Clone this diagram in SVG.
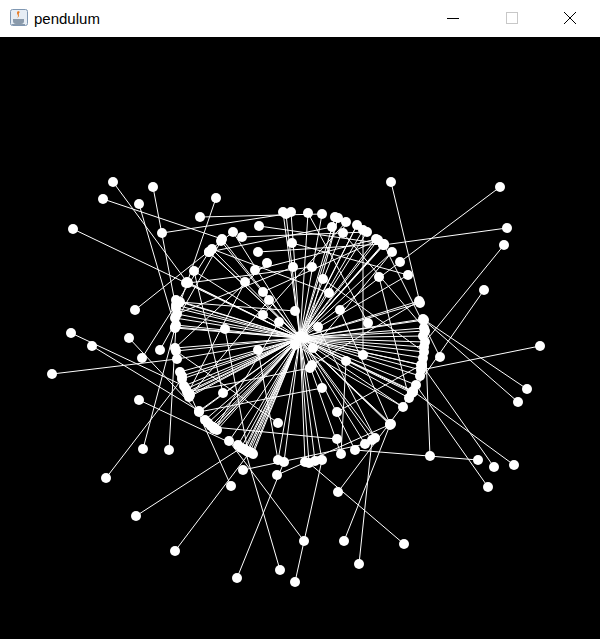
<svg xmlns="http://www.w3.org/2000/svg" width="600" height="639" viewBox="0 0 600 639">
<style>
.rod{fill:none;stroke:#fff;stroke-width:1}
.bob{fill:#fff}
.ttl{font-family:"Liberation Sans","DejaVu Sans",sans-serif;font-size:15px;fill:#000}
.ctl{fill:none;stroke:#000;stroke-width:1}
</style>
<rect x="0" y="0" width="600" height="37" fill="#fff"/>
<g id="window-icon">
<rect x="10.5" y="9.5" width="17" height="16" rx="2" fill="#e6edf5" stroke="#7f97b2"/>
<path d="M18 11 C15 14 20 15 17 18 C21 16 17 14 20 12 Z" fill="#e8781e"/>
<path d="M13 19 h11 v2 a3 3 0 0 1 -3 3 h-5 a3 3 0 0 1 -3 -3 Z" fill="#8a9aab"/>
<path d="M12 24.5 h13" stroke="#8a9aab" stroke-width="1"/>
</g>
<text class="ttl" x="34" y="24">pendulum</text>
<g id="window-controls">
<path class="ctl" d="M447 18.5 H459"/>
<rect x="506.5" y="12.5" width="11" height="11" fill="none" stroke="#c8c8c8"/>
<path class="ctl" d="M564 12 L576 24 M576 12 L564 24"/>
</g>
<rect x="0" y="37" width="600" height="602" fill="#000"/>
<g id="rods" class="rod">
<path d="M300 338 L187 282 L113 182"/>
<path d="M300 338 L176 308 L153 187"/>
<path d="M300 338 L222 239 L103 199"/>
<path d="M300 338 L175 327 L139 204"/>
<path d="M300 338 L175 318 L216 198"/>
<path d="M300 338 L322 214 L200 217"/>
<path d="M300 338 L184 386 L71 333"/>
<path d="M300 338 L199 411 L92 346"/>
<path d="M300 338 L177 359 L52 374"/>
<path d="M300 338 L214 429 L129 338"/>
<path d="M300 338 L209 252 L142 358"/>
<path d="M300 338 L221 241 L160 350"/>
<path d="M300 338 L252 453 L139 400"/>
<path d="M300 338 L175 328 L143 449"/>
<path d="M300 338 L176 325 L169 450"/>
<path d="M300 338 L182 379 L106 478"/>
<path d="M300 338 L241 448 L136 516"/>
<path d="M300 338 L250 452 L175 551"/>
<path d="M300 338 L180 372 L231 486"/>
<path d="M300 338 L284 462 L237 578"/>
<path d="M300 338 L245 450 L280 570"/>
<path d="M300 338 L194 271 L223 393"/>
<path d="M300 338 L278 460 L258 350"/>
<path d="M300 338 L176 351 L278 423"/>
<path d="M300 338 L391 424 L277 475"/>
<path d="M300 338 L365 444 L243 470"/>
<path d="M300 338 L421 370 L540 346"/>
<path d="M300 338 L423 319 L527 389"/>
<path d="M300 338 L424 320 L518 402"/>
<path d="M300 338 L416 385 L488 487"/>
<path d="M300 338 L355 450 L478 460"/>
<path d="M300 338 L422 365 L494 467"/>
<path d="M300 338 L413 391 L514 465"/>
<path d="M300 338 L425 331 L430 456"/>
<path d="M300 338 L413 392 L338 492"/>
<path d="M300 338 L229 441 L304 541"/>
<path d="M300 338 L390 425 L344 541"/>
<path d="M300 338 L309 463 L404 544"/>
<path d="M300 338 L372 440 L359 564"/>
<path d="M300 338 L322 460 L295 582"/>
<path d="M300 338 L384 245 L440 357"/>
<path d="M300 338 L421 365 L337 412"/>
<path d="M300 338 L341 454 L346 361"/>
<path d="M300 338 L213 427 L337 439"/>
<path d="M300 338 L199 412 L322 388"/>
<path d="M300 338 L419 301 L312 365"/>
<path d="M300 338 L363 230 L363 355"/>
<path d="M300 338 L286 214 L162 233"/>
<path d="M300 338 L186 283 L73 229"/>
<path d="M300 338 L233 232 L135 310"/>
<path d="M300 338 L383 244 L258 252"/>
<path d="M300 338 L175 348 L267 263"/>
<path d="M300 338 L376 239 L255 270"/>
<path d="M300 338 L188 393 L245 282"/>
<path d="M300 338 L378 240 L263 292"/>
<path d="M300 338 L189 397 L269 300"/>
<path d="M300 338 L408 275 L292 243"/>
<path d="M300 338 L177 314 L293 267"/>
<path d="M300 338 L248 452 L225 329"/>
<path d="M300 338 L346 222 L263 315"/>
<path d="M300 338 L384 244 L259 226"/>
<path d="M300 338 L367 232 L242 237"/>
<path d="M300 338 L420 303 L391 182"/>
<path d="M300 338 L400 262 L500 187"/>
<path d="M300 338 L383 245 L507 228"/>
<path d="M300 338 L425 342 L504 245"/>
<path d="M300 338 L412 393 L484 290"/>
<path d="M300 338 L409 398 L379 277"/>
<path d="M300 338 L188 283 L312 267"/>
<path d="M300 338 L424 352 L323 279"/>
<path d="M300 338 L212 249 L329 293"/>
<path d="M300 338 L390 424 L340 310"/>
<path d="M300 338 L180 302 L295 311"/>
<path d="M300 338 L308 213 L368 323"/>
<path d="M300 338 L209 252 L332 227"/>
<path d="M300 338 L424 328 L343 233"/>
<path d="M300 338 L338 218 L305 338"/>
<path d="M300 338 L357 225 L300 336"/>
<path d="M300 338 L392 252 L313 348"/>
<path d="M300 338 L403 407 L295 345"/>
<path d="M300 338 L375 438 L318 327"/>
<path d="M300 338 L215 429 L279 322"/>
<path d="M300 338 L187 392 L310 368"/>
<path d="M300 338 L205 420 M300 338 L208 423 M300 338 L211 426 M300 338 L217 430"/>
<path d="M300 338 L238 445 M300 338 L244 449 M300 338 L247 451 M300 338 L253 454"/>
<path d="M300 338 L182 376 M300 338 L186 389 M300 338 L190 395"/>
<path d="M300 338 L423 336 M300 338 L424 347 M300 338 L423 358 M300 338 L420 376"/>
<path d="M300 338 L305 462 M300 338 L315 461 M300 338 L283 212 M300 338 L291 212"/>
<path d="M300 338 L335 217 M300 338 L176 300 M300 338 L176 305"/>
</g>
<g id="bobs" class="bob">
<circle cx="187" cy="282" r="5"/><circle cx="113" cy="182" r="5"/>
<circle cx="176" cy="308" r="5"/><circle cx="153" cy="187" r="5"/>
<circle cx="222" cy="239" r="5"/><circle cx="103" cy="199" r="5"/>
<circle cx="175" cy="327" r="5"/><circle cx="139" cy="204" r="5"/>
<circle cx="175" cy="318" r="5"/><circle cx="216" cy="198" r="5"/>
<circle cx="322" cy="214" r="5"/><circle cx="200" cy="217" r="5"/>
<circle cx="184" cy="386" r="5"/><circle cx="71" cy="333" r="5"/>
<circle cx="199" cy="411" r="5"/><circle cx="92" cy="346" r="5"/>
<circle cx="177" cy="359" r="5"/><circle cx="52" cy="374" r="5"/>
<circle cx="214" cy="429" r="5"/><circle cx="129" cy="338" r="5"/>
<circle cx="209" cy="252" r="5"/><circle cx="142" cy="358" r="5"/>
<circle cx="221" cy="241" r="5"/><circle cx="160" cy="350" r="5"/>
<circle cx="252" cy="453" r="5"/><circle cx="139" cy="400" r="5"/>
<circle cx="175" cy="328" r="5"/><circle cx="143" cy="449" r="5"/>
<circle cx="176" cy="325" r="5"/><circle cx="169" cy="450" r="5"/>
<circle cx="182" cy="379" r="5"/><circle cx="106" cy="478" r="5"/>
<circle cx="241" cy="448" r="5"/><circle cx="136" cy="516" r="5"/>
<circle cx="250" cy="452" r="5"/><circle cx="175" cy="551" r="5"/>
<circle cx="180" cy="372" r="5"/><circle cx="231" cy="486" r="5"/>
<circle cx="284" cy="462" r="5"/><circle cx="237" cy="578" r="5"/>
<circle cx="245" cy="450" r="5"/><circle cx="280" cy="570" r="5"/>
<circle cx="194" cy="271" r="5"/><circle cx="223" cy="393" r="5"/>
<circle cx="278" cy="460" r="5"/><circle cx="258" cy="350" r="5"/>
<circle cx="176" cy="351" r="5"/><circle cx="278" cy="423" r="5"/>
<circle cx="391" cy="424" r="5"/><circle cx="277" cy="475" r="5"/>
<circle cx="365" cy="444" r="5"/><circle cx="243" cy="470" r="5"/>
<circle cx="421" cy="370" r="5"/><circle cx="540" cy="346" r="5"/>
<circle cx="423" cy="319" r="5"/><circle cx="527" cy="389" r="5"/>
<circle cx="424" cy="320" r="5"/><circle cx="518" cy="402" r="5"/>
<circle cx="416" cy="385" r="5"/><circle cx="488" cy="487" r="5"/>
<circle cx="355" cy="450" r="5"/><circle cx="478" cy="460" r="5"/>
<circle cx="422" cy="365" r="5"/><circle cx="494" cy="467" r="5"/>
<circle cx="413" cy="391" r="5"/><circle cx="514" cy="465" r="5"/>
<circle cx="425" cy="331" r="5"/><circle cx="430" cy="456" r="5"/>
<circle cx="413" cy="392" r="5"/><circle cx="338" cy="492" r="5"/>
<circle cx="229" cy="441" r="5"/><circle cx="304" cy="541" r="5"/>
<circle cx="390" cy="425" r="5"/><circle cx="344" cy="541" r="5"/>
<circle cx="309" cy="463" r="5"/><circle cx="404" cy="544" r="5"/>
<circle cx="372" cy="440" r="5"/><circle cx="359" cy="564" r="5"/>
<circle cx="322" cy="460" r="5"/><circle cx="295" cy="582" r="5"/>
<circle cx="384" cy="245" r="5"/><circle cx="440" cy="357" r="5"/>
<circle cx="421" cy="365" r="5"/><circle cx="337" cy="412" r="5"/>
<circle cx="341" cy="454" r="5"/><circle cx="346" cy="361" r="5"/>
<circle cx="213" cy="427" r="5"/><circle cx="337" cy="439" r="5"/>
<circle cx="199" cy="412" r="5"/><circle cx="322" cy="388" r="5"/>
<circle cx="419" cy="301" r="5"/><circle cx="312" cy="365" r="5"/>
<circle cx="363" cy="230" r="5"/><circle cx="363" cy="355" r="5"/>
<circle cx="286" cy="214" r="5"/><circle cx="162" cy="233" r="5"/>
<circle cx="186" cy="283" r="5"/><circle cx="73" cy="229" r="5"/>
<circle cx="233" cy="232" r="5"/><circle cx="135" cy="310" r="5"/>
<circle cx="383" cy="244" r="5"/><circle cx="258" cy="252" r="5"/>
<circle cx="175" cy="348" r="5"/><circle cx="267" cy="263" r="5"/>
<circle cx="376" cy="239" r="5"/><circle cx="255" cy="270" r="5"/>
<circle cx="188" cy="393" r="5"/><circle cx="245" cy="282" r="5"/>
<circle cx="378" cy="240" r="5"/><circle cx="263" cy="292" r="5"/>
<circle cx="189" cy="397" r="5"/><circle cx="269" cy="300" r="5"/>
<circle cx="408" cy="275" r="5"/><circle cx="292" cy="243" r="5"/>
<circle cx="177" cy="314" r="5"/><circle cx="293" cy="267" r="5"/>
<circle cx="248" cy="452" r="5"/><circle cx="225" cy="329" r="5"/>
<circle cx="346" cy="222" r="5"/><circle cx="263" cy="315" r="5"/>
<circle cx="384" cy="244" r="5"/><circle cx="259" cy="226" r="5"/>
<circle cx="367" cy="232" r="5"/><circle cx="242" cy="237" r="5"/>
<circle cx="420" cy="303" r="5"/><circle cx="391" cy="182" r="5"/>
<circle cx="400" cy="262" r="5"/><circle cx="500" cy="187" r="5"/>
<circle cx="383" cy="245" r="5"/><circle cx="507" cy="228" r="5"/>
<circle cx="425" cy="342" r="5"/><circle cx="504" cy="245" r="5"/>
<circle cx="412" cy="393" r="5"/><circle cx="484" cy="290" r="5"/>
<circle cx="409" cy="398" r="5"/><circle cx="379" cy="277" r="5"/>
<circle cx="188" cy="283" r="5"/><circle cx="312" cy="267" r="5"/>
<circle cx="424" cy="352" r="5"/><circle cx="323" cy="279" r="5"/>
<circle cx="212" cy="249" r="5"/><circle cx="329" cy="293" r="5"/>
<circle cx="390" cy="424" r="5"/><circle cx="340" cy="310" r="5"/>
<circle cx="180" cy="302" r="5"/><circle cx="295" cy="311" r="5"/>
<circle cx="308" cy="213" r="5"/><circle cx="368" cy="323" r="5"/>
<circle cx="209" cy="252" r="5"/><circle cx="332" cy="227" r="5"/>
<circle cx="424" cy="328" r="5"/><circle cx="343" cy="233" r="5"/>
<circle cx="338" cy="218" r="5"/><circle cx="305" cy="338" r="5"/>
<circle cx="357" cy="225" r="5"/><circle cx="300" cy="336" r="5"/>
<circle cx="392" cy="252" r="5"/><circle cx="313" cy="348" r="5"/>
<circle cx="403" cy="407" r="5"/><circle cx="295" cy="345" r="5"/>
<circle cx="375" cy="438" r="5"/><circle cx="318" cy="327" r="5"/>
<circle cx="215" cy="429" r="5"/><circle cx="279" cy="322" r="5"/>
<circle cx="187" cy="392" r="5"/><circle cx="310" cy="368" r="5"/>
<circle cx="205" cy="420" r="5"/><circle cx="208" cy="423" r="5"/><circle cx="211" cy="426" r="5"/><circle cx="217" cy="430" r="5"/>
<circle cx="238" cy="445" r="5"/><circle cx="244" cy="449" r="5"/><circle cx="247" cy="451" r="5"/><circle cx="253" cy="454" r="5"/>
<circle cx="182" cy="376" r="5"/><circle cx="186" cy="389" r="5"/><circle cx="190" cy="395" r="5"/>
<circle cx="423" cy="336" r="5"/><circle cx="424" cy="347" r="5"/><circle cx="423" cy="358" r="5"/><circle cx="420" cy="376" r="5"/>
<circle cx="305" cy="462" r="5"/><circle cx="315" cy="461" r="5"/><circle cx="283" cy="212" r="5"/><circle cx="291" cy="212" r="5"/>
<circle cx="335" cy="217" r="5"/><circle cx="176" cy="300" r="5"/><circle cx="176" cy="305" r="5"/>
</g>
</svg>
